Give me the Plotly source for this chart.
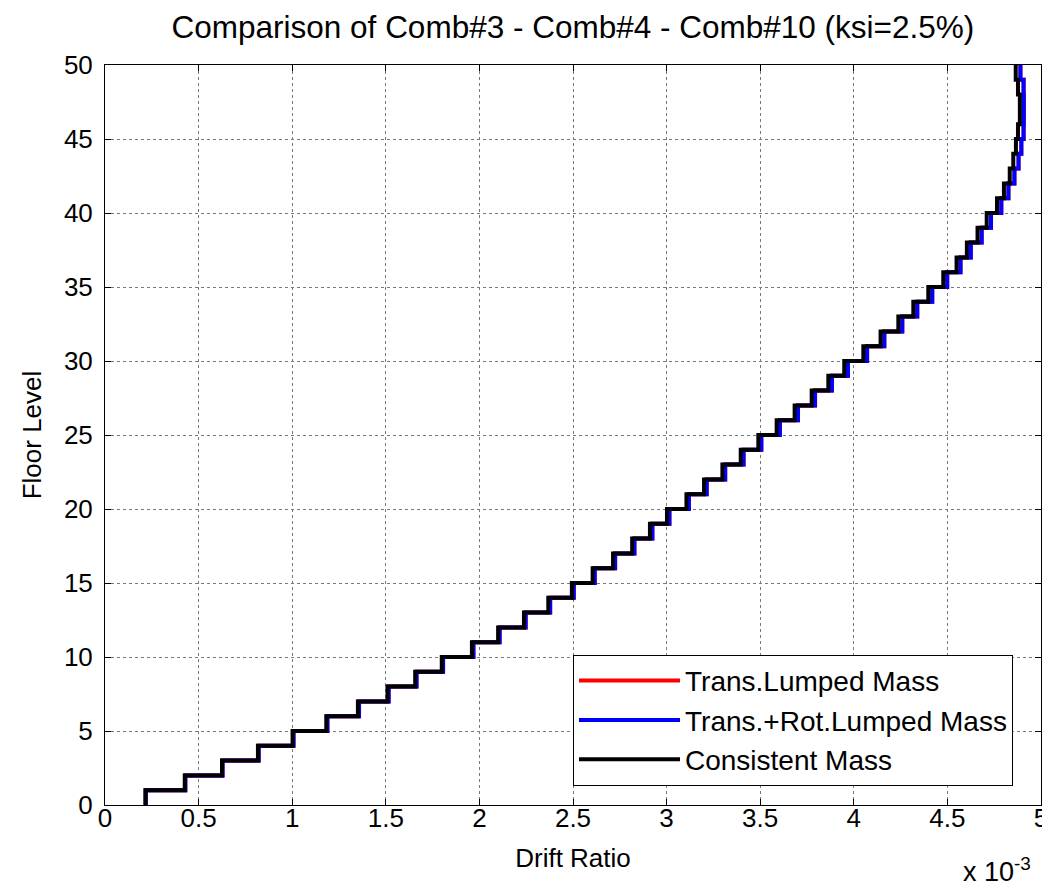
import plotly.graph_objects as go

# Floor levels (top of each storey) and drift ratios (x 10^-3)
floors = list(range(0, 51))

trans_lumped = [0.218, 0.429, 0.628, 0.821, 1.007, 1.188, 1.357, 1.515, 1.664, 1.806,
                1.968, 2.108, 2.247, 2.378, 2.504, 2.616, 2.725, 2.828, 2.924, 3.015,
                3.119, 3.214, 3.313, 3.411, 3.506, 3.605, 3.702, 3.793, 3.883, 3.969,
                4.071, 4.163, 4.259, 4.339, 4.419, 4.499, 4.570, 4.625, 4.683, 4.733,
                4.788, 4.826, 4.858, 4.880, 4.895, 4.907, 4.908, 4.908, 4.907, 4.890]

trans_rot_lumped = [0.218, 0.429, 0.628, 0.821, 1.007, 1.188, 1.357, 1.515, 1.664, 1.806,
                    1.968, 2.108, 2.247, 2.378, 2.504, 2.616, 2.725, 2.828, 2.924, 3.015,
                    3.119, 3.214, 3.313, 3.411, 3.506, 3.605, 3.702, 3.793, 3.883, 3.969,
                    4.071, 4.163, 4.259, 4.339, 4.419, 4.499, 4.570, 4.625, 4.683, 4.733,
                    4.788, 4.826, 4.858, 4.880, 4.895, 4.907, 4.908, 4.908, 4.907, 4.890]

consistent = [0.216, 0.426, 0.625, 0.817, 1.002, 1.182, 1.351, 1.509, 1.657, 1.799,
              1.960, 2.100, 2.238, 2.368, 2.494, 2.605, 2.714, 2.816, 2.911, 3.002,
              3.106, 3.200, 3.298, 3.396, 3.490, 3.588, 3.684, 3.775, 3.864, 3.949,
              4.051, 4.143, 4.238, 4.318, 4.398, 4.478, 4.549, 4.604, 4.661, 4.710,
              4.765, 4.802, 4.833, 4.852, 4.866, 4.877, 4.887, 4.887, 4.877, 4.865]

series_names = ["Trans.Lumped Mass", "Trans.+Rot.Lumped Mass", "Consistent Mass"]
series_colors = ["#ff0000", "#0000ff", "#000000"]

x_tickvals = [0, 0.5, 1, 1.5, 2, 2.5, 3, 3.5, 4, 4.5, 5]
x_ticktext = ["0", "0.5", "1", "1.5", "2", "2.5", "3", "3.5", "4", "4.5", "5"]
y_tickvals = [0, 5, 10, 15, 20, 25, 30, 35, 40, 45, 50]

FONT = "Liberation Sans, Arial, Helvetica, sans-serif"

fig = go.Figure()
for vals, name, color in zip([trans_lumped, trans_rot_lumped, consistent], series_names, series_colors):
    fig.add_trace(go.Scatter(
        x=vals + [vals[-1]], y=floors, mode="lines", name=name,
        line=dict(color=color, width=4, shape="vh"),
    ))

axis_common = dict(
    showline=True, linecolor="black", linewidth=1, mirror="allticks",
    ticks="inside", ticklen=6, tickcolor="black",
    showgrid=True, gridcolor="#7a7a7a", gridwidth=1, griddash="dot",
    zeroline=False, automargin=False,
    tickfont=dict(family=FONT, size=26, color="black"),
)

fig.update_layout(
    width=1050, height=888,
    paper_bgcolor="white", plot_bgcolor="white",
    margin=dict(l=97, r=17, t=57, b=91),
    title=dict(text="Comparison of Comb#3 - Comb#4 - Comb#10 (ksi=2.5%)",
               x=0.538, xanchor="center", y=0.979, yanchor="middle",
               font=dict(family=FONT, size=31.5, color="black")),
    xaxis=dict(range=[0, 5], tickvals=x_tickvals, ticktext=x_ticktext,
               ticklabelstandoff=-10,
               title=dict(text="Drift Ratio", font=dict(family=FONT, size=26, color="black"), standoff=16),
               **axis_common),
    yaxis=dict(range=[0, 50], tickvals=y_tickvals, ticklabelstandoff=6,
               title=dict(text="Floor Level", font=dict(family=FONT, size=26, color="black"), standoff=14),
               **axis_common),
    legend=dict(x=0.5, y=0.203, xanchor="left", yanchor="top",
                bgcolor="white", bordercolor="black", borderwidth=1,
                font=dict(family=FONT, size=28, color="black"),
                itemwidth=101, tracegroupgap=0),
    showlegend=True,
)

fig.add_annotation(
    xref="paper", yref="paper", x=0.915, y=-0.114, xanchor="left", yanchor="bottom",
    text="x 10<sup>-3</sup>", showarrow=False,
    font=dict(family=FONT, size=27, color="black"),
)

fig.write_html("out.html")
